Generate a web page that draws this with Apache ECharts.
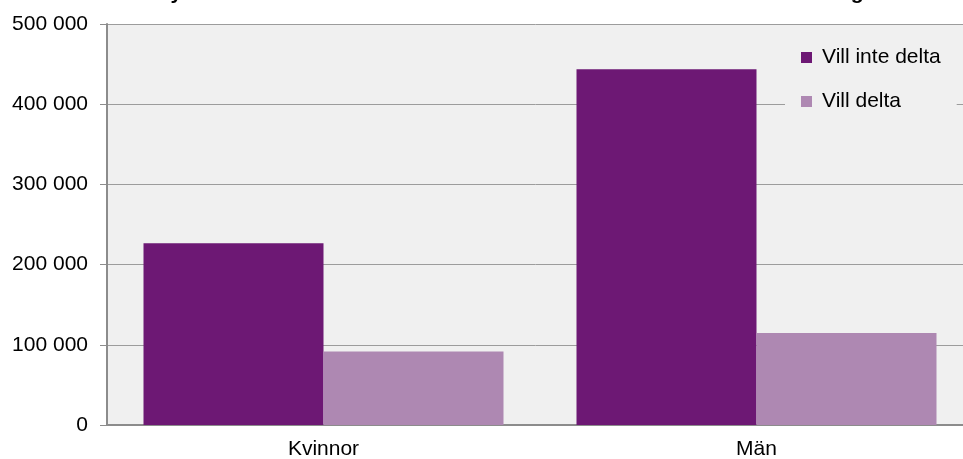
<!DOCTYPE html>
<html>
<head>
<meta charset="utf-8">
<script src="https://cdn.jsdelivr.net/npm/echarts@6/dist/echarts.min.js"></script>
<style>html,body{margin:0;padding:0;background:#fff}#c{width:963px;height:459px}</style>
</head>
<body>
<div id="c"></div>
<script>
const categories = ['Kvinnor', 'Män'];
const seriesNames = ['Vill inte delta', 'Vill delta'];
const villInteDelta = [226500, 443500];
const villDelta = [91500, 114800];
const yTicks = [0, 100000, 200000, 300000, 400000, 500000];
const titleText = 'Antal nyanlända utanför arbetskraften som vill eller inte vill delta i utbildning';

const chart = echarts.init(document.getElementById('c'), null, {renderer: 'canvas'});
const fmt = v => String(v).replace(/\B(?=(\d{3})+(?!\d))/g, ' ');
const FONT = 'Liberation Sans, Arial';
chart.setOption({
  animation: false,
  backgroundColor: '#ffffff',
  title: {
    text: titleText, left: 'center', top: -22, padding: 5,
    textStyle: {fontFamily: FONT, fontWeight: 'bold', fontSize: 21, color: '#000'}
  },
  grid: {left: 107, right: -10, top: 24, bottom: 34, show: true, backgroundColor: '#f0f0f0', borderWidth: 0,
         containLabel: false, outerBoundsMode: 'none'},
  legend: {
    orient: 'vertical', left: 785, top: 40, itemWidth: 11, itemHeight: 11, itemGap: 23,
    icon: 'rect', backgroundColor: '#f0f0f0', padding: [7, 16, 8, 16],
    textStyle: {fontFamily: FONT, fontSize: 21, color: '#000', padding: [0, 0, 0, 5]},
    data: seriesNames
  },
  xAxis: {
    type: 'category', data: categories,
    axisLine: {lineStyle: {color: '#8c8c8c', width: 2}},
    axisTick: {show: false},
    axisLabel: {fontFamily: FONT, fontSize: 21, color: '#000', margin: 14}
  },
  yAxis: {
    type: 'value', min: yTicks[0], max: yTicks[yTicks.length - 1], interval: 100000,
    axisLine: {show: true, lineStyle: {color: '#8c8c8c', width: 2}},
    axisTick: {show: true, length: 7, lineStyle: {color: '#8c8c8c', width: 1}},
    splitLine: {lineStyle: {color: '#9c9c9c', width: 1}},
    axisLabel: {fontFamily: FONT, fontSize: 21, color: '#000', margin: 19, formatter: fmt}
  },
  series: [
    {name: seriesNames[0], type: 'bar', data: villInteDelta, barWidth: 180, barGap: '0%', itemStyle: {color: '#6d1874'}},
    {name: seriesNames[1], type: 'bar', data: villDelta, barWidth: 180, barGap: '0%', itemStyle: {color: '#ae88b2'}}
  ]
});
</script>
</body>
</html>
